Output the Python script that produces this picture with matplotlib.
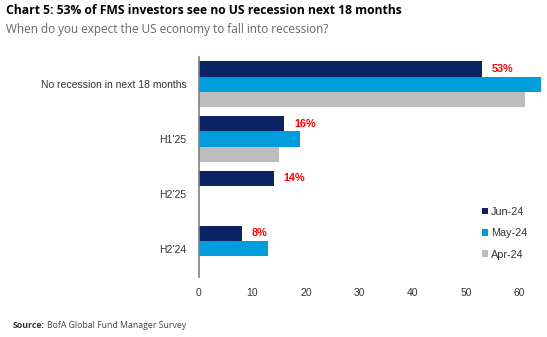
import matplotlib.pyplot as plt
import numpy as np

categories = ["No recession in next 18 months", "H1'25", "H2'25", "H2'24"]
series = ["Jun-24", "May-24", "Apr-24"]
jun_24 = [53, 16, 14, 8]
may_24 = [64, 19, 0, 13]
apr_24 = [61, 15, 0, 0]
labels = ["53%", "16%", "14%", "8%"]

colors = ["#0b2265", "#009ddc", "#bdbdbd"]

plt.rcParams['font.family'] = ['Liberation Sans', 'DejaVu Sans']

fig = plt.figure(figsize=(5.47, 3.37), dpi=100)
ax = fig.add_axes([199 / 547, 1 - 277 / 337, 347 / 547, 220 / 337])

y = np.arange(len(categories))
h = 0.28
for k, (name, vals) in enumerate(zip(series, [jun_24, may_24, apr_24])):
    pos = y + (k - 1) * h
    v = np.array(vals, dtype=float)
    mask = v > 0
    ax.barh(pos[mask], v[mask], height=h, color=colors[k], label=name)

# red value labels next to the Jun-24 bars
for yi, v, lab in zip(y, jun_24, labels):
    ax.annotate(lab, (v, yi - h), xytext=(7, 0), textcoords="offset points",
                va="center", ha="left", color="#ff0000", fontsize=7.8,
                fontweight="bold")

ax.set_xlim(0, 65)
ax.set_ylim(3.52, -0.5)
ax.set_xticks(range(0, 61, 10))
ax.set_yticks(y)
ax.set_yticklabels(categories)
ax.tick_params(axis="both", length=0, labelsize=7.5, colors="#333333")
ax.tick_params(axis="y", pad=9)
ax.tick_params(axis="x", pad=8)
for s in ["top", "right", "bottom"]:
    ax.spines[s].set_visible(False)
ax.spines["left"].set_color("#7f7f7f")
ax.spines["left"].set_linewidth(1.2)

leg = ax.legend(loc="lower right", bbox_to_anchor=(0.975, 0.035), frameon=False,
                fontsize=7.8, handlelength=0.6, handleheight=0.6,
                handletextpad=0.3, labelspacing=1.05)
for t in leg.get_texts():
    t.set_color("#333333")

fig.text(6 / 547, 1 - 11 / 337, "Chart 5: 53% of FMS investors see no US recession next 18 months",
         fontsize=8.7, fontweight="bold", va="center", ha="left",
         family=["Open Sans", "DejaVu Sans"])
fig.text(6 / 547, 1 - 30 / 337, "When do you expect the US economy to fall into recession?",
         fontsize=8.5, color="#666666", va="center", ha="left",
         family=["Open Sans", "DejaVu Sans"])
src = fig.text(13 / 547, 1 - 325 / 337, "Source:", fontsize=6.3, fontweight="bold",
               color="#333333", va="center", ha="left",
               family=["Open Sans", "DejaVu Sans"])
fig.canvas.draw()
bb = src.get_window_extent()
fig.text((bb.x1 + 2) / 547, 1 - 325 / 337, "BofA Global Fund Manager Survey",
         fontsize=6.3, color="#444444", va="center", ha="left",
         family=["Open Sans", "DejaVu Sans"])

fig.savefig("out.png", dpi=100)
